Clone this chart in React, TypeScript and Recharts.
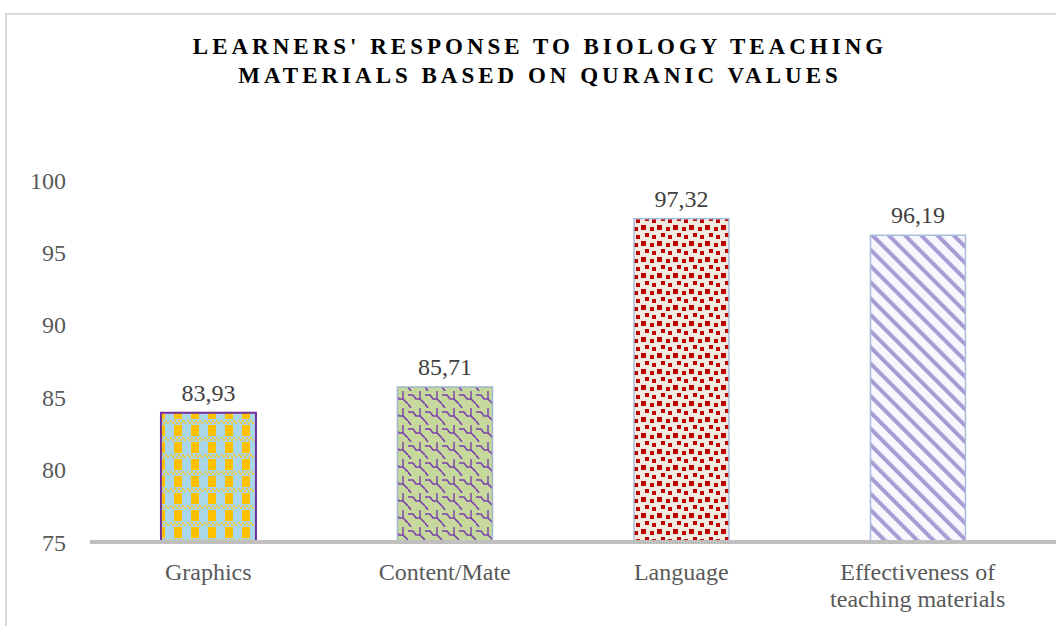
import React from 'react';
import { BarChart, Bar, XAxis, YAxis, Cell, LabelList } from 'recharts';

const categories = ['Graphics', 'Content/Mate', 'Language', 'Effectiveness of teaching materials'];
const scores = [83.93, 85.71, 97.32, 96.19];
const yTicks = [75, 80, 85, 90, 95, 100];
const titleLines = ["LEARNERS' RESPONSE TO BIOLOGY TEACHING", 'MATERIALS BASED ON QURANIC VALUES'];

const data = categories.map((name, i) => ({ name, score: scores[i] }));

const fills = ['url(#pGraphics)', 'url(#pContent)', 'url(#pLanguage)', 'url(#pEffect)'];
const strokes = ['#7030a0', '#9fb4cf', '#a9bedc', '#a9bedc'];

const font = '"Liberation Serif", "DejaVu Serif", serif';

// greedy word wrap, by character count
const wrap = (s: string, max: number) => {
    const lines: string[] = [];
    let cur = '';
    s.split(' ').forEach((w) => {
        if (cur && (cur + ' ' + w).length > max) {
            lines.push(cur);
            cur = w;
        } else {
            cur = cur ? cur + ' ' + w : w;
        }
    });
    if (cur) lines.push(cur);
    return lines;
};

const XTick = (props: any) => {
    const { x, y, payload } = props;
    const lines = wrap(String(payload.value), 18);
    return (
        <text x={x} y={y + 8} textAnchor="middle" fontSize={24} fontFamily={font} fill="#595959">
            {lines.map((l, i) => (
                <tspan key={i} x={x} dy={i === 0 ? '0.9em' : 27}>
                    {l}
                </tspan>
            ))}
        </text>
    );
};

export default function App() {
    return (
        <div style={{ position: 'absolute', left: 0, top: 0, width: 1056, height: 626, background: '#fff', overflow: 'hidden' }}>
            <div style={{ position: 'absolute', left: 5, top: 13, right: 0, bottom: 0, borderTop: '2px solid #d9d9d9', borderLeft: '2px solid #d9d9d9' }} />
            <div style={{ position: 'absolute', left: 0, top: 32, width: 1080, textAlign: 'center', fontFamily: font, fontWeight: 'bold', fontSize: 23, letterSpacing: 4, lineHeight: '29px', color: '#000' }}>
                {titleLines.map((t) => (
                    <div key={t}>{t}</div>
                ))}
            </div>
            <BarChart
                width={1056}
                height={626}
                data={data}
                margin={{ top: 180, right: 0, left: 0, bottom: 0 }}
                barCategoryGap="30%"
                style={{ position: 'absolute', left: 0, top: 0 }}
            >
                <defs>
                    <pattern id="pGraphics" width="17" height="17" patternUnits="userSpaceOnUse">
                        <rect width="17" height="17" fill="#a9d6e8" />
                        <rect x="4" y="0" width="8" height="11" fill="#ffc000" />
                        <rect x="0" y="12" width="2" height="2" fill="#e8c84a" />
                        <rect x="4" y="12" width="2" height="2" fill="#e8c84a" />
                        <rect x="8" y="12" width="2" height="2" fill="#e8c84a" />
                        <rect x="12" y="12" width="2" height="2" fill="#e8c84a" />
                        <rect x="2" y="14" width="2" height="2" fill="#e8c84a" />
                        <rect x="6" y="14" width="2" height="2" fill="#e8c84a" />
                        <rect x="10" y="14" width="2" height="2" fill="#e8c84a" />
                        <rect x="14" y="14" width="2" height="2" fill="#e8c84a" />
                    </pattern>
                    <pattern id="pContent" width="17" height="17" patternUnits="userSpaceOnUse">
                        <rect width="17" height="17" fill="#c6d89c" />
                        <path d="M0 4 L5 4 L8 8 L12 8 L17 13" stroke="#7a3fae" strokeWidth="1.6" fill="none" />
                        <path d="M12 0 L12 8" stroke="#7a3fae" strokeWidth="1.4" fill="none" />
                        <path d="M0 13 L3 17" stroke="#7a3fae" strokeWidth="1.6" fill="none" />
                    </pattern>
                    <pattern id="pLanguage" width="16" height="16" patternUnits="userSpaceOnUse">
                        <rect width="16" height="16" fill="#efebe0" />
                        <rect x="1" y="1" width="5" height="5" fill="#c00000" />
                        <rect x="10" y="3" width="4" height="4" fill="#c00000" />
                        <rect x="5" y="9" width="4" height="4" fill="#c00000" />
                        <rect x="12" y="11" width="5" height="4" fill="#c00000" />
                    </pattern>
                    <pattern id="pEffect" width="11.5" height="11.5" patternUnits="userSpaceOnUse" patternTransform="rotate(-45)">
                        <rect width="11.5" height="11.5" fill="#f6f8fd" />
                        <rect x="0" y="0" width="4" height="11.5" fill="#a99bd4" />
                    </pattern>
                </defs>
                <XAxis
                    dataKey="name"
                    interval={0}
                    height={84}
                    padding={{ left: 0, right: 20 }}
                    axisLine={{ stroke: '#bfbfbf', strokeWidth: 4 }}
                    tickLine={false}
                    tick={<XTick />}
                />
                <YAxis
                    domain={[75, 100]}
                    ticks={yTicks}
                    width={90}
                    axisLine={false}
                    tickLine={false}
                    tickSize={0}
                    tickMargin={24}
                    tick={{ fontSize: 24, fontFamily: font, fill: '#595959' }}
                />
                <Bar dataKey="score" isAnimationActive={false}>
                    {data.map((entry, index) => (
                        <Cell
                            key={`cell-${index}`}
                            fill={fills[index]}
                            stroke={strokes[index]}
                            strokeWidth={index === 0 ? 2 : 1.5}
                        />
                    ))}
                    <LabelList
                        dataKey="score"
                        position="top"
                        offset={12}
                        formatter={(v: any) => Number(v).toFixed(2).replace('.', ',')}
                        style={{ fontSize: 24, fontFamily: font, fill: '#404040' }}
                    />
                </Bar>
            </BarChart>
        </div>
    );
}
